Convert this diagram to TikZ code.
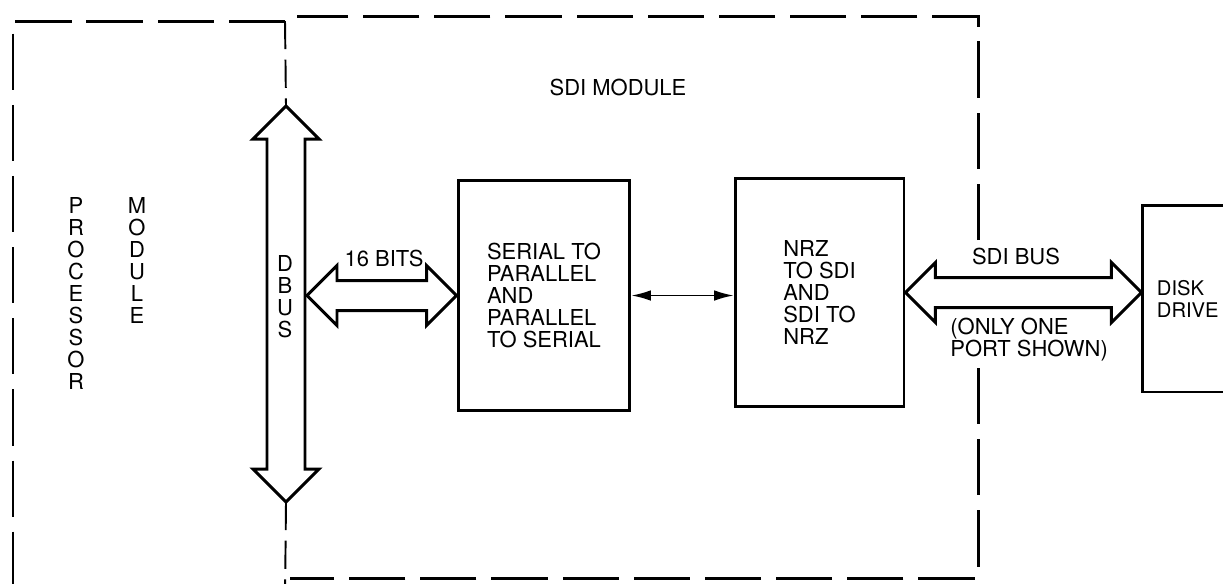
\documentclass[tikz,border=0pt]{standalone}
\usepackage{fontspec}
\setmainfont{TeX Gyre Heros}
\usetikzlibrary{arrows.meta,calc,positioning}
% fat double-headed bus arrow, left tip #1, right tip #2
\newcommand{\hbus}[2]{%
  \draw[bus] (#1) -- ($(#1)+(30,-30)$) -- ($(#1)+(30,-15)$)
    -- ($(#2)+(-30,-15)$) -- ($(#2)+(-30,-30)$) -- (#2)
    -- ($(#2)+(-30,30)$) -- ($(#2)+(-30,15)$)
    -- ($(#1)+(30,15)$) -- ($(#1)+(30,30)$) -- cycle;}

\begin{document}
\begin{tikzpicture}[
  x=0.02cm,
  y=-0.02cm,
  every node/.style={font=\fontsize{12.5}{12.5}\selectfont, inner sep=0pt},
  block/.style={draw, line width=1.7pt, align=left},
  bus/.style={line width=1.7pt, line join=miter},
  boundary/.style={line width=1.7pt, dash pattern=on 32pt off 8.5pt},
  divider/.style={line width=1.1pt, dash pattern=on 16pt off 6pt},
  link/.style={line width=0.9pt,
    {Latex[length=11pt,width=6pt]}-{Latex[length=11pt,width=6pt]}},
  stack/.style={align=center}
]
  \useasboundingbox (0,0) rectangle (1223,583);

  % ---- module boundaries -----------------------------------------------
  \draw[boundary] (285,21) -- (13,21) -- (13,600);
  \draw[boundary] (978,240) -- (978,16) -- (297,16);
  \draw[boundary] (978,368) -- (978,578) -- (290,578);
  \node (sdimodlbl) at (618,87) {SDI MODULE};

  % ---- processor module ------------------------------------------------
  \node[stack, anchor=north] (procword) at (76,197) {P\\R\\O\\C\\E\\S\\S\\O\\R};
  \node[stack, anchor=north] (moduleword) at (137,197) {M\\O\\D\\U\\L\\E};

  % ---- DBUS ------------------------------------------------------------
  \coordinate (dbustop) at (286,106);
  \coordinate (dbusbot) at (286,502);
  \draw[divider] (285,21) -- (dbustop);
  \draw[divider] (dbusbot) -- (285,600);
  \draw[bus] (dbustop) -- ($(dbustop)+(33,33)$) -- ($(dbustop)+(19,33)$)
    -- ($(dbusbot)+(19,-33)$) -- ($(dbusbot)+(33,-33)$) -- (dbusbot)
    -- ($(dbusbot)+(-33,-33)$) -- ($(dbusbot)+(-19,-33)$)
    -- ($(dbustop)+(-19,33)$) -- ($(dbustop)+(-33,33)$) -- cycle;
  \node[stack] (dbuslbl) at (285,297) {D\\B\\U\\S};

  % ---- blocks ----------------------------------------------------------
  \node[block, minimum width=3.44cm, minimum height=4.62cm] (serpar)
    at (544,295.5) {SERIAL TO\\PARALLEL\\AND\\PARALLEL\\TO SERIAL};
  \node[block, minimum width=3.38cm, minimum height=4.58cm] (nrzsdi)
    at (819.5,292.5) {NRZ\\TO SDI\\AND\\SDI TO\\NRZ};
  \node[block, inner xsep=0.28cm, text width=2cm, minimum height=3.74cm,
    font=\fontsize{11.5}{12.5}\selectfont,
    right=4.72cm of nrzsdi, yshift=-0.12cm] (disk) {DISK\\DRIVE};

  % ---- 16 bits ---------------------------------------------------------
  \coordinate (bitsend) at ($(dbustop |- serpar.west)+(21,0)$);
  \hbus{bitsend}{serpar.west}
  \node (bitslbl) at (384,258) {16 BITS};

  % ---- serial link -----------------------------------------------------
  \draw[link] (serpar.east) -- (serpar.east -| nrzsdi.west);

  % ---- SDI bus ---------------------------------------------------------
  \hbus{nrzsdi.east}{disk.west |- nrzsdi.east}
  \node (sdibuslbl) at (1016,256) {SDI BUS};
  \node[anchor=west, align=left] (portlbl) at (950,340) {(ONLY ONE\\PORT SHOWN)};
\end{tikzpicture}
\end{document}
